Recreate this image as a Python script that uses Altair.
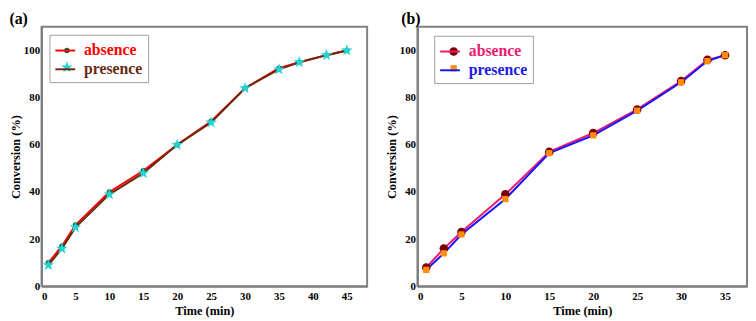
import altair as alt
import pandas as pd

series_names = ["absence", "presence"]

# Panel (a)
a_time = [1, 3, 5, 10, 15, 20, 25, 30, 35, 38, 42, 45]
a_absence = [10, 17, 26, 40, 49, 60, 70, 84, 92.5, 95, 98, 100]
a_presence = [9, 16, 25, 39, 48, 60, 69.5, 84, 92, 95, 98, 100]

# Panel (b)
b_time = [1, 3, 5, 10, 15, 20, 25, 30, 33, 35]
b_absence = [8, 16, 23, 39, 57, 65, 75, 87, 96, 98]
b_presence = [7, 14, 22, 37, 56.5, 64, 74.5, 86.5, 95.5, 98]

a_xticks = [0, 5, 10, 15, 20, 25, 30, 35, 40, 45]
b_xticks = [0, 5, 10, 15, 20, 25, 30, 35]
y_ticks = [0, 20, 40, 60, 80, 100]

STAR = ("M0,-1L0.2245,-0.309L0.9511,-0.309L0.3633,0.118L0.5878,0.809"
        "L0,0.382L-0.5878,0.809L-0.3633,0.118L-0.9511,-0.309L-0.2245,-0.309Z")

FONT = "Liberation Serif"
GRAY = "#808080"
LINE_SYM = 400  # 20 px long legend line


def make_df(t, ya, yp):
    rows = []
    for x, v in zip(t, ya):
        rows.append({"time": x, "conv": v, "series": "absence"})
    for x, v in zip(t, yp):
        rows.append({"time": x, "conv": v, "series": "presence"})
    return pd.DataFrame(rows)


def panel(df, label, xdom, xticks, width, line_colors, label_colors,
          mk_colors, mk_shapes, mk_sizes, title_dx, lx, ly):
    x = alt.X("time:Q", scale=alt.Scale(domain=xdom, nice=False, zero=False),
              axis=alt.Axis(values=xticks, title="Time (min)", format="d"))
    y = alt.Y("conv:Q", scale=alt.Scale(domain=[0, 110], nice=False),
              axis=alt.Axis(values=y_ticks, title="Conversion (%)"))
    lc_expr = ("datum.value == 'absence' ? '%s' : '%s'" % tuple(label_colors))
    line_leg = alt.Legend(
        title=None, orient="none", legendX=lx, legendY=ly,
        symbolType="stroke", symbolSize=LINE_SYM, symbolStrokeWidth=2,
        labelFont=FONT, labelFontSize=16, labelFontWeight="bold",
        labelColor=alt.ExprRef(lc_expr), labelOffset=8,
        strokeColor="#a0a0a0", padding=5,
        rowPadding=0, labelLimit=200,
    )
    maxpt = max(mk_sizes) ** 0.5
    pt_leg = alt.Legend(
        title=None, orient="none",
        legendX=lx + 1 + (LINE_SYM ** 0.5 - maxpt) / 2, legendY=ly + 3,
        labelExpr="''", labelFontSize=16,
        padding=5, rowPadding=1, symbolStrokeWidth=0,
    )
    lines = alt.Chart(df).mark_line(strokeWidth=2).encode(
        x=x, y=y,
        color=alt.Color("series:N",
                        scale=alt.Scale(domain=series_names, range=line_colors),
                        legend=line_leg),
        detail="series:N",
    )
    pts = alt.Chart(df).mark_point(filled=True, opacity=1, strokeWidth=0).encode(
        x=x, y=y,
        fill=alt.Fill("series:N",
                      scale=alt.Scale(domain=series_names, range=mk_colors),
                      legend=pt_leg),
        shape=alt.Shape("series:N",
                        scale=alt.Scale(domain=series_names, range=mk_shapes),
                        legend=pt_leg),
        size=alt.Size("series:N",
                      scale=alt.Scale(domain=series_names, range=mk_sizes),
                      legend=pt_leg),
    )
    return alt.layer(lines, pts).resolve_scale(color="independent").properties(
        width=width, height=263,
        title=alt.TitleParams(label, anchor="start", frame="bounds", font=FONT,
                              fontSize=16, fontWeight="bold", dx=title_dx,
                              offset=0, color="black"),
    )


dfa = make_df(a_time, a_absence, a_presence)
dfb = make_df(b_time, b_absence, b_presence)

pa = panel(dfa, "(a)", [0, 48], a_xticks, 330,
           ["#ff0000", "#6b2a12"], ["#ff0000", "#6b2a12"],
           ["#1b5e3b", "#22d3d3"], ["circle", STAR], [30, 160], 0, 8, 8)
pb = panel(dfb, "(b)", [0, 37.5], b_xticks, 334,
           ["#ee1a6c", "#1414ff"], ["#ea1a70", "#1a1ae6"],
           ["#7a0000", "#ff8c0a"], ["circle", "square"], [75, 40], 16, 17, 9)

chart = alt.hconcat(pa, pb, spacing=16).resolve_scale(
    color="independent", fill="independent", shape="independent", size="independent"
).configure(
    padding=0,
).configure_view(
    stroke=GRAY, strokeWidth=2,
).configure_axis(
    grid=False, ticks=False, domainColor=GRAY, domainWidth=2,
    labelFont=FONT, labelFontSize=11, labelFontWeight="bold", labelColor="black",
    titleFont=FONT, titleFontSize=12.5, titleFontWeight="bold", titleColor="black",
).configure_axisY(
    labelPadding=2, titlePadding=1,
).configure_axisX(
    labelPadding=4, titlePadding=4,
)

chart.save("out.html", embed_options={"renderer": "svg", "actions": False})
